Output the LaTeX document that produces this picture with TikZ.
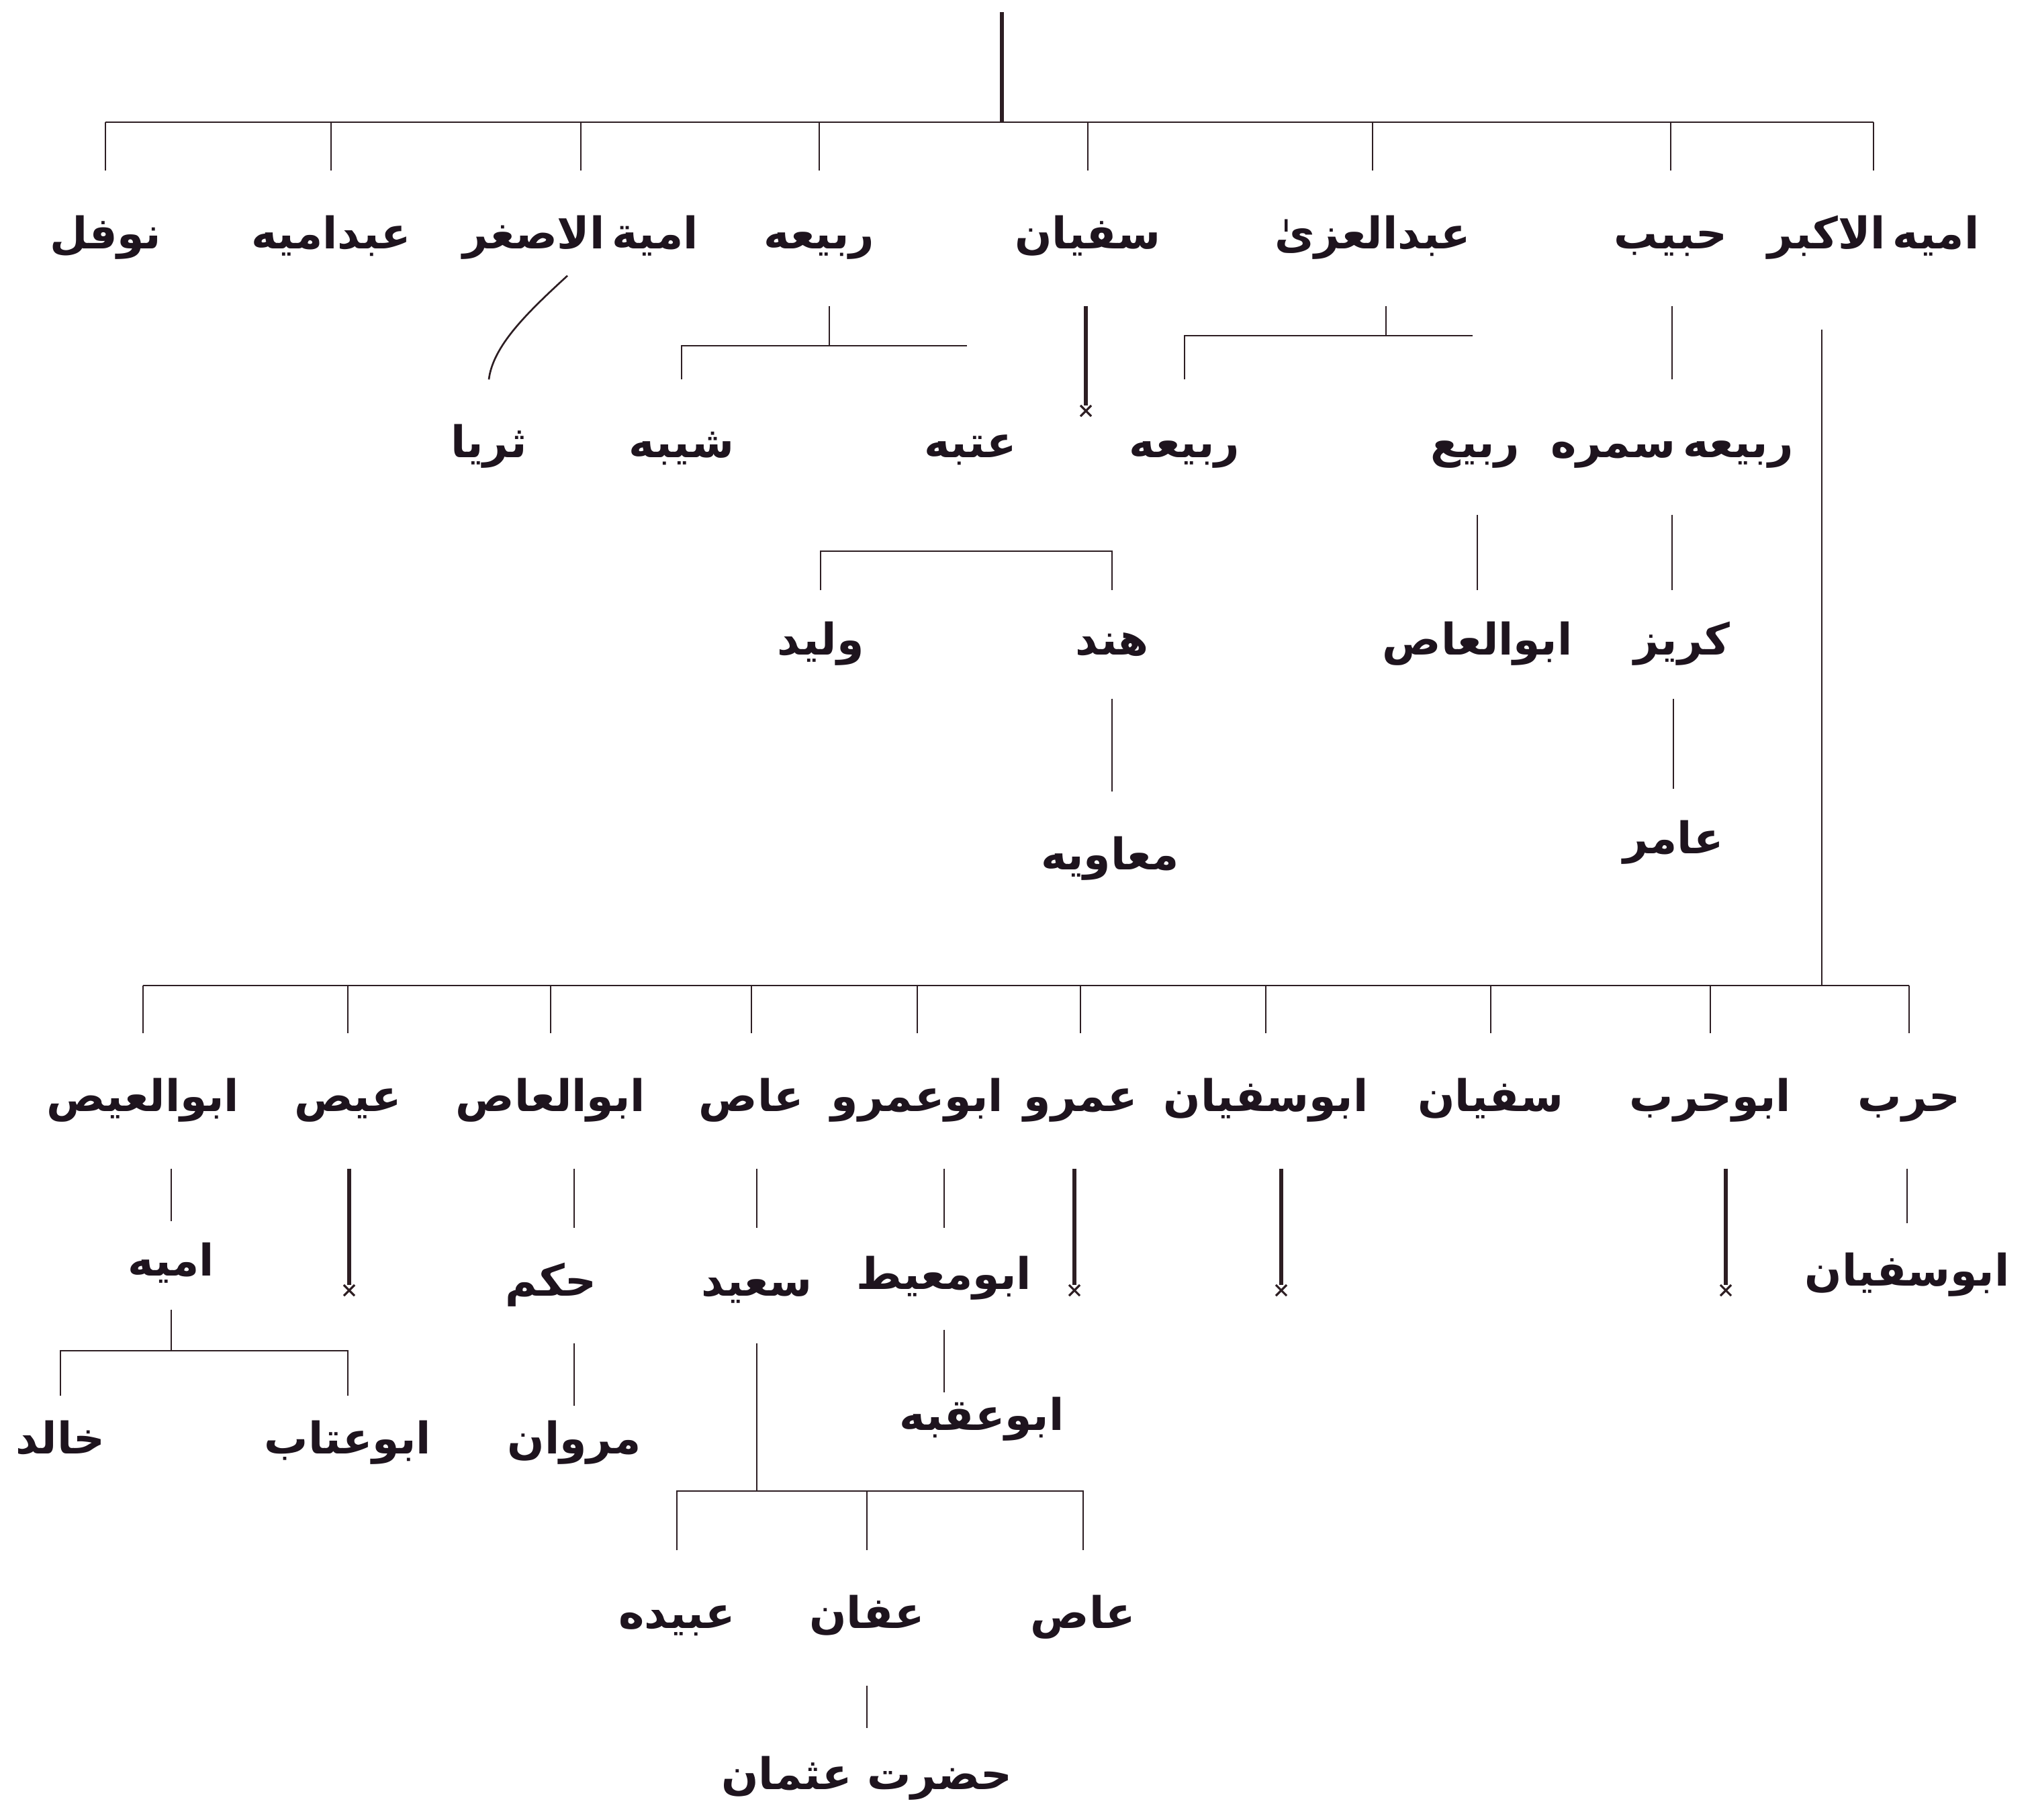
\documentclass[tikz,border=0pt]{standalone}
\usepackage{fontspec}
\TeXXeTstate=1
\newfontfamily\arabicfont[Script=Arabic]{DejaVu Sans}
\usetikzlibrary{shapes.misc}
\definecolor{ink}{RGB}{30,20,30}
\definecolor{lnk}{RGB}{45,30,35}
\newcommand\ur[1]{\beginR #1\endR}
\tikzset{
  nm/.style={inner sep=0pt, text=ink, font=\arabicfont\bfseries\fontsize{18.5}{22}\selectfont,
             text height=0.55cm, text depth=0.25cm, minimum height=2cm},
  ln/.style={draw=lnk, line width=0.75pt},
  heavy/.style={draw=lnk, line width=1.7pt},
  rootln/.style={draw=lnk, line width=1.9pt},
  xm/.style={cross out, draw=lnk, line width=0.9pt, minimum size=0.13cm, inner sep=0pt}
}
\begin{document}
\begin{tikzpicture}
\useasboundingbox (0,0) rectangle (30.29,-27.10);
\fill[white] (0,0) rectangle (30.29,-27.10);

% ---------- top generation ----------
\coordinate (rootTop) at (14.92,-0.18);
\coordinate (topBar) at (14.92,-1.82);
\node[nm] (nawfal)    at (1.57,-3.55) {\ur{نوفل}};
\node[nm] (abdumayya) at (4.93,-3.55) {\ur{عبدامیه}};
\node[nm] (umasghar)  at (8.65,-3.55) {\ur{امیة\,الاصغر}};
\node[nm] (rabiaA)    at (12.20,-3.55) {\ur{ربیعه}};
\node[nm] (sufyanA)   at (16.20,-3.55) {\ur{سفیان}};
\node[nm] (abduluzza) at (20.44,-3.55) {\ur{عبدالعزیٰ}};
\node[nm] (habib)     at (24.88,-3.55) {\ur{حبیب}};
\node[nm] (umakbar)   at (27.90,-3.55) {\ur{امیه\,الاکبر}};

\draw[rootln] (rootTop) -- (topBar);
\draw[ln] (nawfal.north |- topBar) -- (umakbar.north |- topBar);
\foreach \n in {nawfal,abdumayya,umasghar,rabiaA,sufyanA,abduluzza,habib,umakbar}
  \draw[ln] (\n.north |- topBar) -- (\n.north);

% ---------- second generation ----------
\node[nm] (thurayya)    at (7.28,-6.66) {\ur{ثریا}};
\node[nm] (shayba)      at (10.15,-6.66) {\ur{شیبه}};
\node[nm] (utba)        at (14.45,-6.66) {\ur{عتبه}};
\node[nm] (rabiaB)      at (17.64,-6.66) {\ur{ربیعه}};
\node[nm] (rabi)        at (21.97,-6.66) {\ur{ربیع}};
\node[nm] (rabiasamura) at (24.90,-6.66) {\ur{ربیعه\,سمره}};
\node[xm] (sx1) at (16.17,-6.12) {};

\draw[ln] ([xshift=-0.2cm,yshift=0.45cm]umasghar.south) .. controls +(-0.6,-0.55) and +(0.06,0.5) .. (thurayya.north);

\coordinate (rbM) at (12.35,-5.15);
\coordinate (rbR) at (14.40,-5.15);
\draw[ln] (rbM |- rabiaA.south) -- (rbM);
\draw[ln] (shayba.north) -- (shayba.north |- rbR) -- (rbR);

\draw[heavy] (sx1.north |- sufyanA.south) -- (sx1.north);

\coordinate (azM) at (20.64,-5.00);
\coordinate (azR) at (21.93,-5.00);
\draw[ln] (azM |- abduluzza.south) -- (azM);
\draw[ln] (rabiaB.north) -- (rabiaB.north |- azR) -- (azR);

\draw[ln] (rabiasamura.north |- habib.south) -- (rabiasamura.north);

% ---------- third generation ----------
\node[nm, minimum height=1.6cm] (walid)   at (12.22,-9.60) {\ur{ولید}};
\node[nm, minimum height=1.6cm] (hind)    at (16.56,-9.60) {\ur{هند}};
\node[nm, minimum height=1.6cm] (abulasA) at (22.00,-9.60) {\ur{ابوالعاص}};
\node[nm, minimum height=1.6cm] (kurayz)  at (25.05,-9.60) {\ur{کریز}};
\node[nm, minimum height=1.6cm] (amir)    at (24.92,-12.56) {\ur{عامر}};
\node[nm, minimum height=2.0cm] (muawiya) at (16.53,-12.80) {\ur{معاویه}};

\coordinate (utBar) at (14.30,-8.21);
\draw[ln] (walid.north) -- (walid.north |- utBar) -- (hind.north |- utBar) -- (hind.north);
\draw[ln] (hind.south) -- (hind.south |- muawiya.north);
\draw[ln] (abulasA.north |- rabi.south) -- (abulasA.north);
\draw[ln] (rabiasamura.south) -- (rabiasamura.south |- kurayz.north);
\draw[ln] (amir.north |- kurayz.south) -- (amir.north);

% ---------- lower family of umayya al-akbar ----------
\coordinate (akLine) at (27.13,-14.68);
\draw[ln] ([yshift=-0.35cm]akLine |- umakbar.south) -- (akLine);

\node[nm] (abulis)     at (2.13,-16.40) {\ur{ابوالعیص}};
\node[nm] (ays)        at (5.18,-16.40) {\ur{عیص}};
\node[nm] (abulasB)    at (8.20,-16.40) {\ur{ابوالعاص}};
\node[nm] (asA)        at (11.19,-16.40) {\ur{عاص}};
\node[nm] (abuamr)     at (13.66,-16.40) {\ur{ابوعمرو}};
\node[nm] (amr)        at (16.09,-16.40) {\ur{عمرو}};
\node[nm] (abusufyanA) at (18.85,-16.40) {\ur{ابوسفیان}};
\node[nm] (sufyanB)    at (22.20,-16.40) {\ur{سفیان}};
\node[nm] (abuharb)    at (25.47,-16.40) {\ur{ابوحرب}};
\node[nm] (harb)       at (28.43,-16.40) {\ur{حرب}};

\draw[ln] (abulis.north |- akLine) -- (harb.north |- akLine);
\foreach \n in {abulis,ays,abulasB,asA,abuamr,amr,abusufyanA,sufyanB,abuharb,harb}
  \draw[ln] (\n.north |- akLine) -- (\n.north);

% next generation
\node[nm, minimum height=1.3cm]  (amiya)      at (2.55,-18.85) {\ur{امیه}};
\node[nm, minimum height=1.7cm]  (hakam)      at (8.20,-19.15) {\ur{حکم}};
\node[nm, minimum height=1.7cm]  (saeed)      at (11.27,-19.15) {\ur{سعید}};
\node[nm, minimum height=1.5cm]  (abumuayt)   at (14.06,-19.05) {\ur{ابومعیط}};
\node[nm, minimum height=1.55cm] (abusufyanB) at (28.40,-19.00) {\ur{ابوسفیان}};
\node[xm] (xays)  at (5.20,-19.22) {};
\node[xm] (xamr)  at (16.00,-19.22) {};
\node[xm] (xabus) at (19.08,-19.22) {};
\node[xm] (xabuh) at (25.70,-19.22) {};

\draw[ln] (amiya.north |- abulis.south) -- (amiya.north);
\draw[heavy] (xays.north |- ays.south) -- (xays.north);
\draw[ln] (saeed.north |- asA.south) -- (saeed.north);
\draw[ln] (abumuayt.north |- abuamr.south) -- (abumuayt.north);
\draw[heavy] (xamr.north |- amr.south) -- (xamr.north);
\draw[heavy] (xabus.north |- abusufyanA.south) -- (xabus.north);
\draw[heavy] (xabuh.north |- abuharb.south) -- (xabuh.north);
\draw[ln] (abusufyanB.north |- harb.south) -- (abusufyanB.north);

\node[nm, minimum height=1.4cm] (khalid)   at (0.90,-21.50) {\ur{خالد}};
\node[nm, minimum height=1.4cm] (abuattab) at (5.18,-21.50) {\ur{ابوعتاب}};
\node[nm, minimum height=1.1cm] (marwan)   at (8.55,-21.50) {\ur{مروان}};
\node[nm, minimum height=0.8cm] (abuuqba)  at (14.62,-21.15) {\ur{ابوعقبه}};

\coordinate (amBar) at (3.00,-20.12);
\draw[ln] (amiya.south) -- (amiya.south |- amBar);
\draw[ln] (khalid.north) -- (khalid.north |- amBar) -- (abuattab.north |- amBar) -- (abuattab.north);
\draw[ln] (marwan.north |- abulasB.south) -- (marwan.north |- hakam.north);
\draw[ln] (marwan.north |- hakam.south) -- (marwan.north);
\draw[ln] (abumuayt.south) -- (abumuayt.south |- abuuqba.north);

\node[nm] (ubayda) at (10.08,-24.10) {\ur{عبیده}};
\node[nm] (affan)  at (12.91,-24.10) {\ur{عفان}};
\node[nm] (asB)    at (16.13,-24.10) {\ur{عاص}};
\node[nm, minimum height=1.5cm] (uthman) at (12.91,-26.50) {\ur{حضرت عثمان}};

\coordinate (sBar) at (13.00,-22.21);
\draw[ln] (saeed.south) -- (saeed.south |- sBar);
\draw[ln] (ubayda.north) -- (ubayda.north |- sBar) -- (asB.north |- sBar) -- (asB.north);
\draw[ln] (affan.north |- sBar) -- (affan.north);
\draw[ln] (affan.south) -- (affan.south |- uthman.north);
\end{tikzpicture}
\end{document}
